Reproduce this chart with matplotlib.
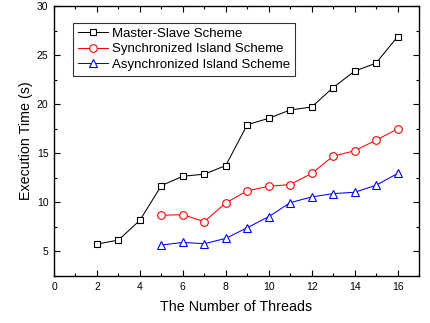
import matplotlib
matplotlib.use("Agg")
import matplotlib.pyplot as plt
from matplotlib.ticker import MultipleLocator

plt.rcParams.update(
    {
        "font.family": ["Liberation Sans", "DejaVu Sans"],
        "font.size": 8,
        "xtick.direction": "in",
        "ytick.direction": "in",
        "xtick.top": True,
        "ytick.right": True,
    }
)

master_x = [2, 3, 4, 5, 6, 7, 8, 9, 10, 11, 12, 13, 14, 15, 16]
master_y = [5.75, 6.16, 8.17, 11.71, 12.66, 12.87, 13.75, 17.91, 18.56,
            19.41, 19.71, 21.69, 23.36, 24.18, 26.87]

sync_x = [5, 6, 7, 8, 9, 10, 11, 12, 13, 14, 15, 16]
sync_y = [8.68, 8.75, 8.03, 9.94, 11.17, 11.64, 11.81, 12.94, 14.71,
          15.25, 16.34, 17.47]

async_x = [5, 6, 7, 8, 9, 10, 11, 12, 13, 14, 15, 16]
async_y = [5.65, 5.92, 5.79, 6.33, 7.42, 8.54, 9.97, 10.55, 10.89,
           11.03, 11.74, 12.94]

fig = plt.figure(figsize=(4.3, 3.23), dpi=100)
ax = fig.add_axes([54 / 430, 1 - 276 / 323, 365 / 430, 270 / 323])

ax.plot(master_x, master_y, color="black", marker="s", markersize=5,
        markerfacecolor="white", markeredgecolor="black", linewidth=0.75,
        markeredgewidth=0.8, label="Master-Slave Scheme")
ax.plot(sync_x, sync_y, color="red", marker="o", markersize=5.5,
        markerfacecolor="white", markeredgecolor="red", linewidth=0.75,
        markeredgewidth=0.8, label="Synchronized Island Scheme")
ax.plot(async_x, async_y, color="blue", marker="^", markersize=6,
        markerfacecolor="white", markeredgecolor="blue", linewidth=0.75,
        markeredgewidth=0.8, label="Asynchronized Island Scheme")

ax.set_xlim(0, 17)
ax.set_ylim(2.5, 30)
ax.xaxis.set_major_locator(MultipleLocator(2))
ax.xaxis.set_minor_locator(MultipleLocator(1))
ax.yaxis.set_major_locator(MultipleLocator(5))
ax.yaxis.set_minor_locator(MultipleLocator(2.5))
ax.tick_params(which="major", length=4, width=0.8, labelsize=7.5, pad=4)
ax.tick_params(which="minor", length=2.5, width=0.8)
for sp in ax.spines.values():
    sp.set_linewidth(1.0)

ax.set_xlabel("The Number of Threads", fontsize=10.3, labelpad=6)
ax.set_ylabel("Execution Time (s)", fontsize=10.3, labelpad=3)

leg = ax.legend(loc="upper left", bbox_to_anchor=(0.052, 0.937),
                borderaxespad=0, fontsize=9.5,
                frameon=True, fancybox=False, edgecolor="black",
                handlelength=2.3, borderpad=0.35, labelspacing=0.25,
                handletextpad=0.3)
leg.get_frame().set_linewidth(0.8)

fig.savefig("out.png", dpi=100)
